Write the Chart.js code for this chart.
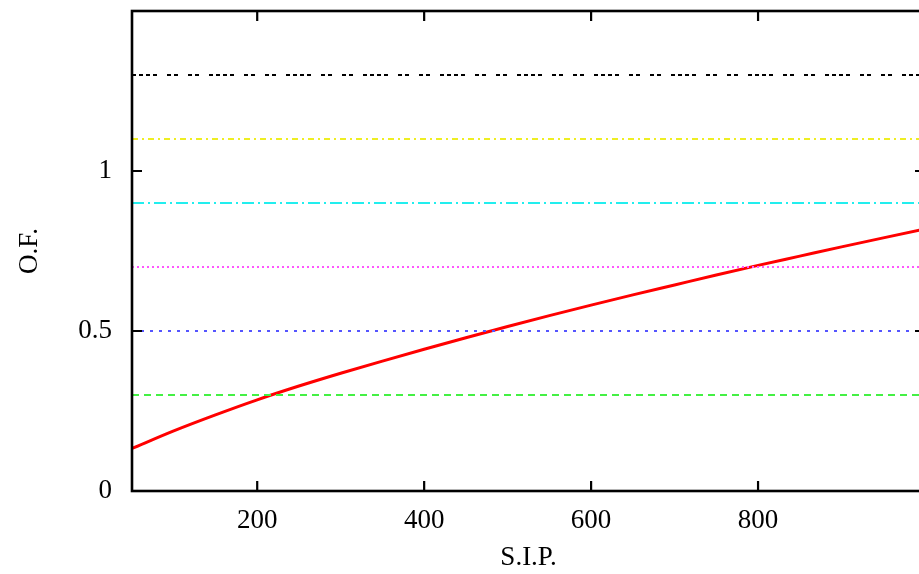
<!DOCTYPE html>
<html>
<head>
<meta charset="utf-8">
<script src="https://cdn.jsdelivr.net/npm/chart.js@4.4.1/dist/chart.umd.min.js"></script>
<style>
  html, body { margin: 0; padding: 0; background: #fff; overflow: hidden; }
  #wrap { width: 919px; height: 574px; overflow: hidden; }
</style>
</head>
<body>
<div id="wrap"><canvas id="myChart" width="930" height="574"></canvas></div>
<script>
// S.I.P. values and the O.F. curve
const sipValues = [50, 100, 150, 200, 250, 300, 350, 400, 450, 500, 550, 600, 650, 700, 750, 800, 850, 900, 950, 1000];
const ofValues = [0.133, 0.188, 0.238, 0.285, 0.328, 0.368, 0.406, 0.443, 0.479, 0.514, 0.548, 0.581, 0.613, 0.644, 0.675, 0.705, 0.734, 0.763, 0.791, 0.819];

// horizontal reference levels (bottom to top)
const refLevels = [0.3, 0.5, 0.7, 0.9, 1.1, 1.3];
const xRange = [50, 1000];

const xTicks = [200, 400, 600, 800];
const yTicks = [0, 0.5, 1];

// line styles for the reference levels
const refColors = ["#44f044", "#5555ff", "#ff55ff", "#22eeee", "#eeee22", "#000000"];
const refDashes = [
  [7, 5],
  [3, 6],
  [2, 3],
  [12, 4, 2, 4],
  [6, 4, 2, 4],
  [4, 3, 4, 3, 4, 3, 4, 10, 4, 3, 4, 10, 4, 3, 4, 10]
];

const ctx = document.getElementById("myChart").getContext("2d");

const datasets = refLevels.map((lvl, i) => ({
  data: xRange.map(x => ({ x: x, y: lvl })),
  borderColor: refColors[i],
  borderWidth: 2,
  borderDash: refDashes[i],
  pointRadius: 0,
  fill: false
}));

datasets.push({
  data: sipValues.map((x, i) => ({ x: x, y: ofValues[i] })),
  borderColor: "#ff0000",
  borderWidth: 3,
  pointRadius: 0,
  cubicInterpolationMode: "monotone",
  fill: false
});

// frame with inward ticks on all four sides, like gnuplot
const framePlugin = {
  id: "frame",
  afterDatasetsDraw(chart) {
    const { ctx, chartArea: a, scales } = chart;
    ctx.save();
    ctx.strokeStyle = "#000";
    ctx.lineWidth = 2.6;
    ctx.strokeRect(a.left, a.top, a.right - a.left, a.bottom - a.top);
    ctx.lineWidth = 2.2;
    ctx.beginPath();
    xTicks.forEach(v => {
      const px = scales.x.getPixelForValue(v);
      ctx.moveTo(px, a.bottom); ctx.lineTo(px, a.bottom - 10);
      ctx.moveTo(px, a.top); ctx.lineTo(px, a.top + 10);
    });
    yTicks.forEach(v => {
      const py = scales.y.getPixelForValue(v);
      ctx.moveTo(a.left, py); ctx.lineTo(a.left + 10, py);
      ctx.moveTo(a.right, py); ctx.lineTo(a.right - 10, py);
    });
    ctx.stroke();
    ctx.restore();
  }
};

const font = { family: "'Liberation Serif', 'DejaVu Serif', serif", size: 27 };

new Chart(ctx, {
  type: "line",
  data: { datasets: datasets },
  options: {
    responsive: false,
    animation: false,
    layout: { padding: { left: 0, right: 5, top: 11, bottom: 0 } },
    plugins: { legend: { display: false }, tooltip: { enabled: false } },
    scales: {
      x: {
        type: "linear",
        min: xRange[0],
        max: xRange[1],
        grid: { display: false, drawTicks: false },
        border: { display: false },
        afterBuildTicks: scale => { scale.ticks = xTicks.map(v => ({ value: v })); },
        afterFit: scale => { scale.height = 83; scale.paddingLeft = 0; scale.paddingRight = 0; },
        ticks: { color: "#000", font: font, padding: 14, maxRotation: 0, callback: v => String(v) },
        title: { display: true, text: "S.I.P.", color: "#000", font: font, padding: { top: 0, bottom: 0 } }
      },
      y: {
        type: "linear",
        min: 0,
        max: 1.5,
        grid: { display: false, drawTicks: false },
        border: { display: false },
        afterBuildTicks: scale => { scale.ticks = yTicks.map(v => ({ value: v })); },
        afterFit: scale => { scale.width = 132; scale.paddingTop = 0; scale.paddingBottom = 0; },
        ticks: { color: "#000", font: font, padding: 20, callback: v => String(v) },
        title: { display: true, text: "O.F.", color: "#000", font: font, padding: { top: 14, bottom: 0 } }
      }
    }
  },
  plugins: [framePlugin]
});
</script>
</body>
</html>
